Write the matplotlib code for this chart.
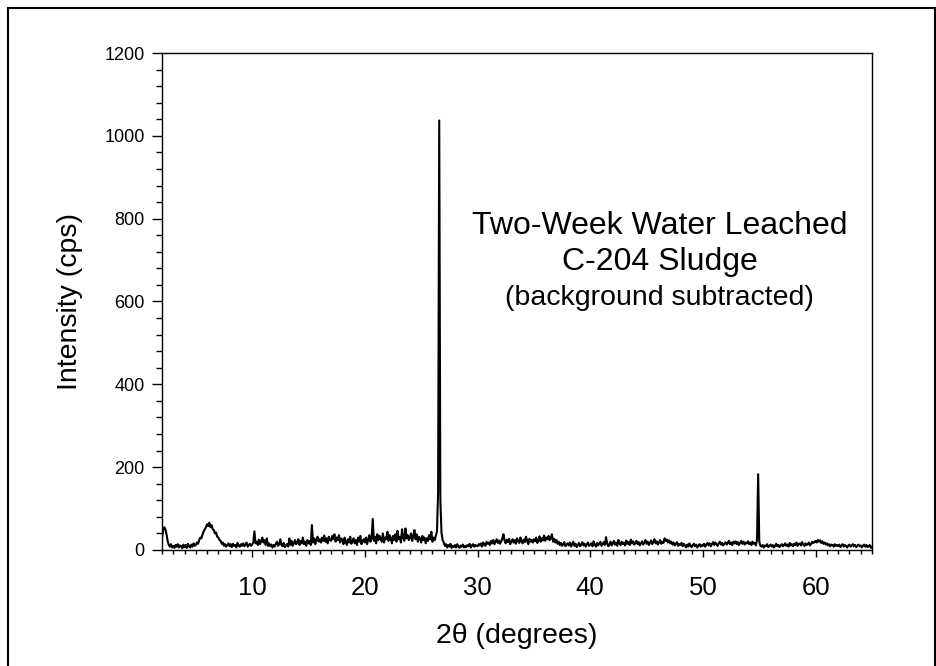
import numpy as np
import matplotlib
matplotlib.use("Agg")
import matplotlib.pyplot as plt
from matplotlib.patches import Rectangle
from matplotlib.ticker import MultipleLocator

plt.rcParams['font.family'] = ['Liberation Sans', 'DejaVu Sans']

# scan grid: 2.0 .. 65.0 deg, step 0.1
two_theta_start = 2.0
two_theta_step = 0.1

# intensity (cps), one row per degree
intensity = [
    30, 48, 55, 50, 38, 22, 12, 8, 14, 6,          # 2
    10, 5, 12, 8, 14, 6, 11, 9, 4, 13,             # 3
    7, 12, 5, 15, 9, 6, 13, 8, 16, 10,             # 4
    12, 18, 15, 24, 30, 28, 38, 45, 50, 55,        # 5
    62, 58, 66, 55, 60, 50, 48, 40, 42, 32,        # 6
    30, 24, 22, 15, 18, 10, 14, 8, 12, 16,         # 7
    9, 14, 7, 15, 10, 12, 6, 17, 11, 8,            # 8
    14, 10, 16, 9, 13, 18, 8, 12, 15, 10,          # 9
    13, 18, 45, 16, 20, 12, 25, 14, 22, 30,        # 10
    18, 24, 12, 28, 10, 16, 9, 13, 6, 12,          # 11
    8, 15, 20, 10, 14, 26, 12, 9, 17, 7,           # 12
    11, 14, 8, 28, 12, 22, 10, 16, 24, 14,         # 13
    18, 26, 12, 22, 16, 30, 14, 20, 10, 24,        # 14
    16, 22, 12, 60, 18, 28, 14, 25, 32, 20,        # 15
    26, 18, 30, 22, 35, 20, 28, 16, 32, 24,        # 16
    22, 34, 26, 38, 20, 30, 24, 36, 18, 28,        # 17
    24, 14, 30, 20, 12, 26, 18, 32, 15, 22,        # 18
    28, 16, 24, 12, 30, 20, 34, 14, 22, 26,        # 19
    18, 30, 14, 26, 36, 20, 28, 75, 22, 32,        # 20
    16, 38, 24, 34, 28, 20, 40, 18, 30, 26,        # 21
    44, 22, 36, 28, 16, 34, 24, 38, 20, 46,        # 22
    26, 32, 18, 50, 30, 22, 52, 28, 36, 24,        # 23
    30, 40, 22, 34, 48, 26, 38, 20, 32, 28,        # 24
    18, 34, 24, 30, 16, 28, 22, 36, 26, 44,        # 25
    20, 30, 24, 34, 45, 140, 1037, 120, 42, 24,    # 26
    18, 10, 14, 6, 12, 8, 15, 5, 10, 7,            # 27
    12, 6, 14, 9, 5, 11, 8, 13, 6, 10,             # 28
    7, 12, 9, 15, 6, 11, 14, 8, 12, 10,            # 29
    9, 14, 11, 16, 8, 18, 13, 10, 20, 15,          # 30
    18, 12, 22, 16, 24, 14, 20, 26, 17, 23,        # 31
    15, 21, 28, 38, 22, 16, 25, 19, 27, 14,        # 32
    20, 26, 18, 24, 15, 28, 22, 17, 30, 21,        # 33
    16, 25, 19, 32, 22, 14, 27, 20, 24, 18,        # 34
    26, 21, 30, 17, 24, 33, 20, 28, 23, 35,        # 35
    22, 30, 26, 34, 24, 28, 38, 20, 27, 18,        # 36
    24, 15, 20, 12, 17, 10, 14, 19, 9, 13,         # 37
    16, 11, 18, 8, 14, 20, 10, 15, 7, 12,          # 38
    17, 9, 13, 19, 11, 15, 8, 14, 18, 10,          # 39
    12, 16, 9, 21, 13, 8, 17, 11, 15, 20,          # 40
    10, 14, 19, 12, 31, 16, 9, 14, 20, 11,         # 41
    15, 22, 13, 18, 10, 24, 16, 12, 20, 14,        # 42
    18, 11, 23, 15, 19, 12, 25, 16, 21, 13,        # 43
    17, 22, 14, 19, 11, 16, 21, 13, 18, 24,        # 44
    15, 20, 12, 17, 23, 14, 19, 26, 16, 21,        # 45
    13, 18, 24, 15, 20, 17, 28, 22, 25, 18,        # 46
    23, 16, 20, 13, 18, 11, 15, 19, 10, 14,        # 47
    12, 17, 9, 15, 11, 6, 13, 8, 16, 10,           # 48
    7, 12, 15, 9, 13, 6, 11, 14, 8, 12,            # 49
    10, 15, 8, 13, 17, 11, 16, 9, 14, 19,          # 50
    12, 18, 14, 10, 16, 20, 13, 17, 11, 15,        # 51
    19, 13, 17, 22, 14, 18, 12, 20, 16, 21,        # 52
    14, 19, 12, 17, 22, 15, 20, 13, 18, 16,        # 53
    21, 14, 18, 12, 20, 15, 17, 11, 25, 183,       # 54
    20, 10, 8, 12, 6, 11, 9, 14, 7, 10,            # 55
    13, 8, 12, 6, 10, 15, 9, 12, 7, 11,            # 56
    14, 9, 12, 16, 10, 13, 8, 17, 11, 14,          # 57
    9, 15, 12, 18, 10, 14, 16, 11, 19, 13,         # 58
    10, 16, 12, 14, 18, 11, 15, 20, 17, 19,        # 59
    22, 18, 24, 20, 23, 17, 21, 15, 18, 13,        # 60
    16, 11, 14, 9, 13, 12, 8, 14, 10, 12,          # 61
    9, 13, 7, 11, 14, 8, 12, 10, 6, 11,            # 62
    13, 8, 11, 14, 9, 12, 7, 10, 13, 9,            # 63
    11, 6, 10, 13, 8, 12, 7, 9, 12, 5,             # 64
    8,                                             # 65
]

two_theta = two_theta_start + two_theta_step * np.arange(len(intensity))

x_major = [10, 20, 30, 40, 50, 60]
y_major = [0, 200, 400, 600, 800, 1000, 1200]

fig = plt.figure(figsize=(9.37, 6.66), dpi=100)
ax = fig.add_axes([0.1729, 0.1742, 0.7577, 0.7462])

ax.plot(two_theta, intensity, color='black', lw=1.5)

ax.set_xlim(2, 65)
ax.set_ylim(0, 1200)
ax.set_xticks(x_major)
ax.set_yticks(y_major)
ax.xaxis.set_minor_locator(MultipleLocator(1))
ax.yaxis.set_minor_locator(MultipleLocator(40))

ax.tick_params(axis='x', which='major', direction='out', length=5, width=1,
               labelsize=18.5, pad=14, top=False)
ax.tick_params(axis='x', which='minor', direction='out', length=3, width=1, top=False)
ax.tick_params(axis='y', which='major', direction='out', length=7.5, width=1,
               labelsize=13, pad=5, right=False)
ax.tick_params(axis='y', which='minor', direction='out', length=4.5, width=1, right=False)

for s in ax.spines.values():
    s.set_linewidth(1.0)

ax.set_xlabel('2θ (degrees)', fontsize=20.5, labelpad=16)
ax.set_ylabel('Intensity (cps)', fontsize=20.5, labelpad=15)

ax.text(0.701, 0.652, 'Two-Week Water Leached', transform=ax.transAxes,
        ha='center', va='center', fontsize=23)
ax.text(0.701, 0.58, 'C-204 Sludge', transform=ax.transAxes,
        ha='center', va='center', fontsize=23)
ax.text(0.701, 0.507, '(background subtracted)', transform=ax.transAxes,
        ha='center', va='center', fontsize=20.5)

# outer frame
fig.patches.append(Rectangle((8 / 937, -0.05), (935 - 8) / 937, 1.05 - 8 / 666,
                             transform=fig.transFigure, fill=False,
                             edgecolor='black', lw=1.5))

fig.savefig('out.png', dpi=100)
